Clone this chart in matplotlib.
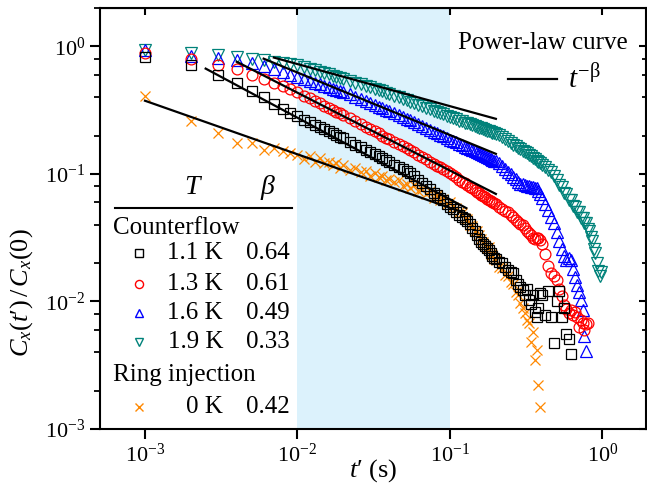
import numpy as np
import matplotlib
matplotlib.use('Agg')
import matplotlib.pyplot as plt
from matplotlib.ticker import LogLocator, NullFormatter, NullLocator

plt.rcParams['font.family'] = 'Liberation Serif'
plt.rcParams['mathtext.fontset'] = 'custom'
plt.rcParams['mathtext.rm'] = 'Liberation Serif'
plt.rcParams['mathtext.it'] = 'Liberation Serif:italic'
plt.rcParams['mathtext.bf'] = 'Liberation Serif:bold'

# time lag t' in ms (shared grid, each series uses a prefix of it)
t_ms = [1, 2, 3, 4, 5, 6, 7, 8, 9, 10,
        11, 12, 13, 14, 15, 16, 17, 18, 19, 20,
        22, 24, 26, 28, 30, 32, 34, 36, 38, 40,
        43, 46, 49, 52, 55, 58, 62, 66, 70, 74,
        78, 82, 86, 90, 95, 100, 105, 110, 115, 120,
        125, 130, 135, 140, 145, 150, 155, 160, 165, 170,
        175, 180, 185, 190, 195, 200, 210, 220, 230, 240,
        250, 260, 270, 280, 290, 300, 310, 320, 330, 340,
        350, 360, 370, 380, 390, 400, 420, 440, 460, 480,
        500, 520, 540, 560, 580, 600, 620, 640, 660, 680,
        700, 720, 740, 760, 780, 800, 820, 840, 860, 880,
        900, 920, 940, 960, 980]

# normalised autocorrelation C_x(t')/C_x(0)
c_11K = [0.83, 0.71, 0.60, 0.515, 0.45, 0.40, 0.355, 0.325, 0.302, 0.283,
         0.267, 0.255, 0.243, 0.233, 0.224, 0.216, 0.208, 0.201, 0.195, 0.190,
         0.179, 0.170, 0.162, 0.155, 0.149, 0.143, 0.138, 0.133, 0.128, 0.124,
         0.118, 0.113, 0.109, 0.105, 0.101, 0.097, 0.090, 0.085, 0.080, 0.0755,
         0.0715, 0.068, 0.065, 0.062, 0.058, 0.055, 0.053, 0.050, 0.048, 0.046,
         0.0444, 0.0427, 0.0407, 0.038, 0.0355, 0.0331, 0.0309, 0.0295, 0.0282, 0.0272,
         0.0263, 0.0251, 0.024, 0.0229, 0.0221, 0.0214, 0.0204, 0.020, 0.0186, 0.0178,
         0.017, 0.0166, 0.0148, 0.0138, 0.0129, 0.0123, 0.0112, 0.0126, 0.0102, 0.0095,
         0.0112, 0.0083, 0.0076, 0.0089, 0.0117, 0.0112, 0.0079, 0.012, 0.0076, 0.0047,
         0.010, 0.012, 0.0076, 0.0089, 0.0056, 0.0051, 0.0039]

c_13K = [0.89, 0.79, 0.72, 0.66, 0.60, 0.555, 0.521, 0.491, 0.463, 0.435,
         0.412, 0.391, 0.373, 0.357, 0.343, 0.330, 0.318, 0.308, 0.298, 0.289,
         0.273, 0.258, 0.245, 0.234, 0.224, 0.216, 0.208, 0.200, 0.193, 0.1875,
         0.179, 0.171, 0.165, 0.159, 0.1535, 0.148, 0.1416, 0.135, 0.130, 0.125,
         0.1205, 0.1164, 0.1127, 0.109, 0.105, 0.101, 0.0975, 0.0938, 0.0903, 0.0871,
         0.0843, 0.0817, 0.0792, 0.0769, 0.0747, 0.0726, 0.0708, 0.0689, 0.0673, 0.0657,
         0.0641, 0.0628, 0.0614, 0.0601, 0.0589, 0.0577, 0.0555, 0.0535, 0.0513, 0.0501,
         0.048, 0.0459, 0.0437, 0.0417, 0.0407, 0.0398, 0.038, 0.0359, 0.0344, 0.0331,
         0.0316, 0.0309, 0.0316, 0.0316, 0.0302, 0.0282, 0.0234, 0.019, 0.0166, 0.0158,
         0.0148, 0.0126, 0.011, 0.0093, 0.0087, 0.0081, 0.0085, 0.0079, 0.0083, 0.0076,
         0.0063, 0.0072, 0.0068, 0.006, 0.0066, 0.0068]

c_16K = [0.93, 0.845, 0.815, 0.787, 0.741, 0.697, 0.668, 0.630, 0.601, 0.577,
         0.555, 0.536, 0.519, 0.505, 0.491, 0.479, 0.467, 0.457, 0.447, 0.438,
         0.420, 0.401, 0.385, 0.371, 0.358, 0.347, 0.336, 0.327, 0.317, 0.309,
         0.298, 0.288, 0.279, 0.270, 0.263, 0.256, 0.246, 0.237, 0.229, 0.222,
         0.215, 0.209, 0.203, 0.198, 0.192, 0.186, 0.181, 0.177, 0.172, 0.168,
         0.164, 0.160, 0.157, 0.154, 0.151, 0.148, 0.145, 0.143, 0.140, 0.138,
         0.136, 0.133, 0.131, 0.129, 0.127, 0.126, 0.122, 0.116, 0.110, 0.104,
         0.099, 0.095, 0.091, 0.087, 0.084, 0.083, 0.082, 0.081, 0.080, 0.079,
         0.079, 0.078, 0.078, 0.073, 0.069, 0.065, 0.058, 0.052, 0.046, 0.041,
         0.035, 0.030, 0.026, 0.0226, 0.021, 0.022, 0.021, 0.018, 0.0156, 0.0135,
         0.0118, 0.0102, 0.0085, 0.0054, 0.0041]

c_19K = [0.94, 0.89, 0.86, 0.83, 0.80, 0.776, 0.76, 0.743, 0.729, 0.716,
         0.692, 0.670, 0.650, 0.633, 0.617, 0.603, 0.590, 0.578, 0.566, 0.556,
         0.536, 0.519, 0.504, 0.490, 0.477, 0.466, 0.454, 0.443, 0.433, 0.423,
         0.410, 0.398, 0.388, 0.378, 0.369, 0.361, 0.349, 0.339, 0.330, 0.321,
         0.313, 0.306, 0.299, 0.293, 0.285, 0.279, 0.273, 0.268, 0.262, 0.258,
         0.253, 0.249, 0.245, 0.242, 0.238, 0.234, 0.231, 0.228, 0.225, 0.222,
         0.219, 0.217, 0.214, 0.211, 0.209, 0.207, 0.201, 0.194, 0.188, 0.182,
         0.176, 0.170, 0.165, 0.161, 0.156, 0.152, 0.148, 0.145, 0.141, 0.138,
         0.134, 0.131, 0.127, 0.124, 0.121, 0.118, 0.113, 0.108, 0.103, 0.097,
         0.090, 0.082, 0.079, 0.071, 0.070, 0.063, 0.062, 0.056, 0.055, 0.050,
         0.050, 0.045, 0.045, 0.041, 0.041, 0.037, 0.036, 0.032, 0.030, 0.026,
         0.024, 0.0202, 0.0174, 0.0158, 0.017]

c_ring = [0.41, 0.26, 0.21, 0.176, 0.174, 0.155, 0.16, 0.15, 0.145, 0.14,
          0.131, 0.138, 0.125, 0.133, 0.121, 0.124, 0.118, 0.122, 0.111, 0.118,
          0.108, 0.111, 0.103, 0.106, 0.096, 0.102, 0.094, 0.097, 0.089, 0.092,
          0.086, 0.089, 0.081, 0.084, 0.078, 0.082, 0.074, 0.076, 0.069, 0.073,
          0.065, 0.068, 0.062, 0.064, 0.058, 0.060, 0.055, 0.054, 0.050, 0.049,
          0.045, 0.044, 0.040, 0.039, 0.036, 0.036, 0.033, 0.031, 0.0295, 0.0278,
          0.0262, 0.0265, 0.0236, 0.0232, 0.0214, 0.0212, 0.0186, 0.0183, 0.0162, 0.0158,
          0.0141, 0.0136, 0.0119, 0.0113, 0.0098, 0.0089, 0.0081, 0.0072, 0.0068, 0.0048,
          0.0058, 0.0035, 0.0042, 0.0022, 0.0015]

temps = ['1.1 K', '1.3 K', '1.6 K', '1.9 K', '0 K']
betas = [0.64, 0.61, 0.49, 0.33, 0.42]
# power-law prefactor and fitted range (s) of each t^-beta line
fit_amp = [0.01447, 0.0261, 0.0653, 0.159, 0.0206]
fit_start = [0.0025, 0.004, 0.006, 0.007, 0.001]
fit_end = [0.128, 0.2, 0.2, 0.2, 0.134]

series = [c_11K, c_13K, c_16K, c_19K, c_ring]
markers = ['s', 'o', '^', 'v', 'x']
colors = ['#000000', '#ff0000', '#0000ff', '#00827a', '#ff8800']
msizes = [6.8, 7.8, 8.3, 8.3, 7.5]

t = np.array(t_ms) / 1000.0

fig = plt.figure(figsize=(6.47, 4.91), dpi=100)
ax = fig.add_axes([100 / 647, 62 / 491, 546 / 647, 421 / 491])

ax.axvspan(1e-2, 1e-1, color='#dcf2fc', zorder=0, lw=0)

for i in [4, 3, 2, 1, 0]:
    vals = series[i]
    ax.plot(t[:len(vals)], vals, ls='none', marker=markers[i], ms=msizes[i],
            mfc='none', mec=colors[i], mew=0.9, zorder=2)

for i in range(5):
    tt = np.array([fit_start[i], fit_end[i]])
    ax.plot(tt, fit_amp[i] * tt ** (-betas[i]), color='black', lw=1.6, zorder=3)

ax.set_xscale('log')
ax.set_yscale('log')
ax.set_xlim(5.07e-4, 1.93)
ax.set_ylim(1e-3, 2.0)

ax.xaxis.set_major_locator(LogLocator(base=10, numticks=10))
ax.xaxis.set_minor_locator(NullLocator())
ax.yaxis.set_major_locator(LogLocator(base=10, numticks=10))
ax.yaxis.set_minor_locator(LogLocator(base=10, subs=[2, 4, 6, 8], numticks=10))
ax.yaxis.set_minor_formatter(NullFormatter())

for s in ax.spines.values():
    s.set_linewidth(1.5)
ax.tick_params(which='major', direction='out', length=7, width=1.5, labelsize=16)
ax.tick_params(which='minor', direction='out', length=4.5, width=1.3)
ax.tick_params(top=False, right=False)

# inward ticks on the opposite sides
top = ax.secondary_xaxis('top')
top.xaxis.set_major_locator(LogLocator(base=10, numticks=10))
top.xaxis.set_minor_locator(NullLocator())
top.tick_params(direction='in', length=4.7, width=1.5, labeltop=False)
right = ax.secondary_yaxis('right')
right.yaxis.set_major_locator(LogLocator(base=10, numticks=10))
right.yaxis.set_minor_locator(LogLocator(base=10, subs=[2, 4, 6, 8], numticks=10))
right.tick_params(which='major', direction='in', length=4.7, width=1.5, labelright=False)
right.tick_params(which='minor', direction='in', length=3, width=1.3)
right.yaxis.set_minor_formatter(NullFormatter())

ax.set_xlabel("$t$\u2032 (s)", fontsize=19)
ax.xaxis.set_label_coords(0.5, -0.068)
ax.set_ylabel("$C_x(t$\u2032$)\\,/\\,C_x(0)$", fontsize=19)
ax.yaxis.set_label_coords(-0.119, 0.325)

# table-style legend
tr = ax.transAxes
fs = 18
ax.text(0.1722, 0.5748, r'$T$', transform=tr, fontsize=20, ha='center', va='center')
ax.text(0.3077, 0.5748, r'$\beta$', transform=tr, fontsize=20, ha='center', va='center')
ax.plot([0.0275, 0.3516], [0.5249, 0.5249], transform=tr, color='black', lw=1.5,
        clip_on=False)
ax.text(0.0238, 0.4774, 'Counterflow', transform=tr, fontsize=fs, ha='left', va='center')
ax.text(0.0238, 0.1283, 'Ring injection', transform=tr, fontsize=fs, ha='left', va='center')
row_y = [0.418, 0.3456, 0.2755, 0.2067, 0.0523]
for i in range(5):
    ax.plot([0.0714], [row_y[i]], transform=tr, ls='none', marker=markers[i],
            ms=msizes[i] * 0.75, mfc='none', mec=colors[i], mew=1.0)
    ax.text(0.2253, row_y[i], temps[i], transform=tr, fontsize=fs, ha='right', va='center')
    ax.text(0.348, row_y[i], '%.2f' % betas[i], transform=tr, fontsize=fs,
            ha='right', va='center')

ax.text(0.6557, 0.9169, 'Power-law curve', transform=tr, fontsize=fs, ha='left', va='center')
ax.plot([0.747, 0.837], [0.8314, 0.8314], transform=tr, color='black', lw=1.6)
ax.text(0.857, 0.829, r'$t^{-\mathrm{\beta}}$', transform=tr, fontsize=21, ha='left', va='center')

fig.savefig('out.png', dpi=100)
